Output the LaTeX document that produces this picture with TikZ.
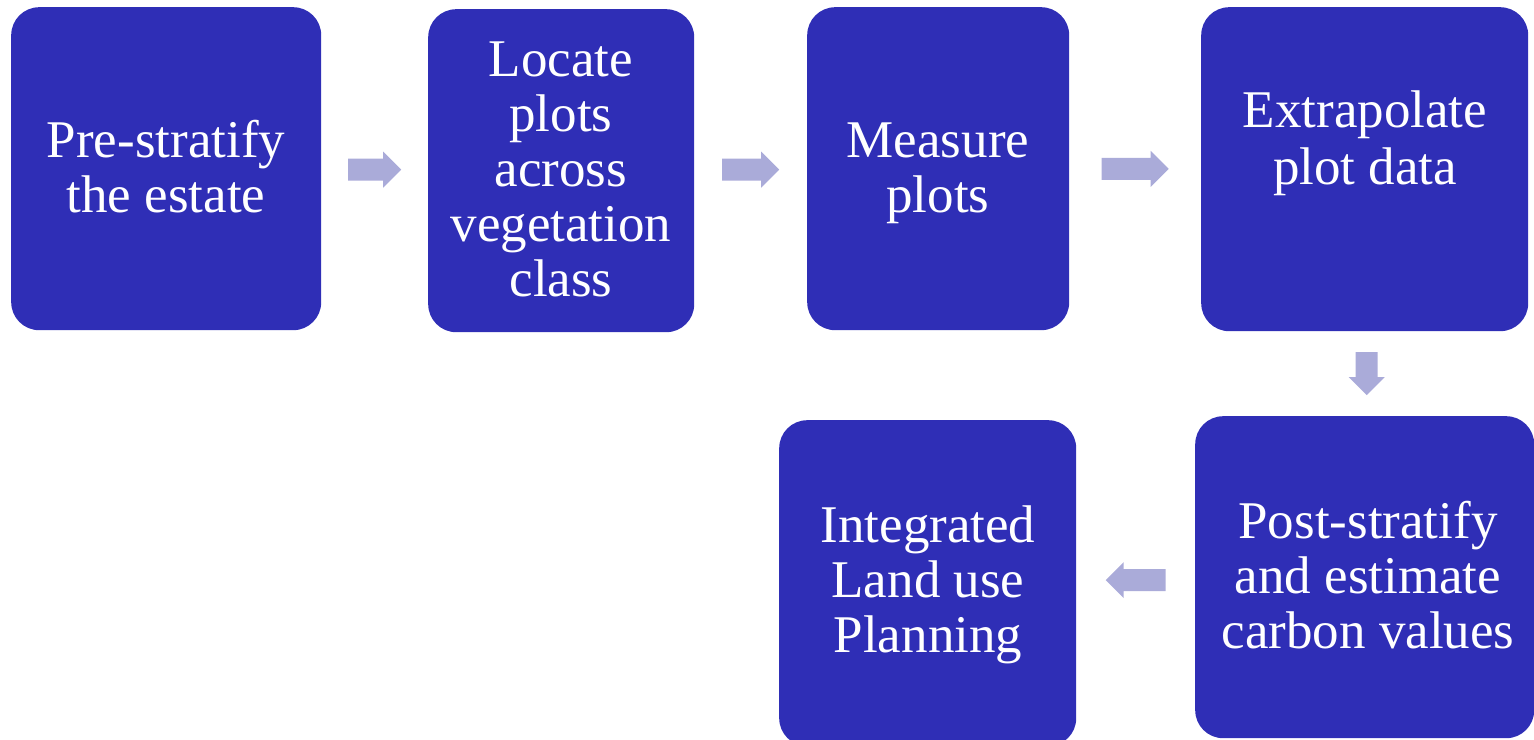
\documentclass[tikz,border=0pt]{standalone}
\usepackage{fontspec}
\setmainfont{Liberation Serif}
\usetikzlibrary{calc}
\definecolor{boxc}{RGB}{47,46,182}
\definecolor{arrowc}{RGB}{170,171,217}
\tikzset{
  box/.style={rectangle, fill=boxc, draw=none, rounded corners=28pt, inner sep=0pt, anchor=north west},
  txt/.style={text=white, align=center, inner sep=0pt, font=\fontsize{53}{55}\selectfont},
}
\newcommand\blockarrow[3]{%
  \fill[arrowc, shift={(#1)}, rotate=#2]
    (-#3/2,-11) -- (#3/2-18,-11) -- (#3/2-18,-18) -- (#3/2,0) --
    (#3/2-18,18) -- (#3/2-18,11) -- (-#3/2,11) -- cycle;}
\begin{document}
\begin{tikzpicture}[x=1pt,y=-1pt]
\useasboundingbox (0,0) rectangle (1534,739);
\clip (0,0) rectangle (1534,739);
% boxes
\node[box, minimum width=310, minimum height=323] (b1) at (11,7) {};
\node[box, minimum width=266, minimum height=323] (b2) at (428,9) {};
\node[box, minimum width=262, minimum height=323] (b3) at (807,7) {};
\node[box, minimum width=327, minimum height=324] (b4) at (1201,7) {};
\node[box, minimum width=339, minimum height=322] (b5) at (1195,416) {};
\node[box, minimum width=297, minimum height=326] (b6) at (779,420) {};
% texts
\node[txt] (t1) at (166,173.5) {\strut Pre-stratify\\\strut the estate};
\node[txt] (t2) at (561,175) {\strut Locate\\\strut plots\\\strut across\\\strut vegetation\\\strut class};
\node[txt] (t3) at (938,173.5) {\strut Measure\\\strut plots};
\node[txt] (t4) at (1365,145) {\strut Extrapolate\\[2pt]\strut plot data};
\node[txt] (t5) at (1368,582) {\strut Post-stratify\\\strut and estimate\\\strut carbon values};
\node[txt] (t6) at (928,586) {\strut Integrated\\\strut Land use\\\strut Planning};
% connectors
\coordinate (m12) at ($(b1.east)!0.5!(b2.west)$);
\coordinate (m23) at ($(b2.east)!0.5!(b3.west)$);
\coordinate (m34) at ($(b3.east)!0.5!(b4.west)$);
\coordinate (m45) at ($(b4.south)!0.5!(b5.north)+(2,0)$);
\coordinate (m56) at ($(b5.west)!0.5!(b6.east)$);
\blockarrow{m12}{0}{53}
\blockarrow{m23}{0}{57}
\blockarrow{m34}{0}{67}
\blockarrow{m45}{-90}{43}
\blockarrow{m56}{180}{60}
\end{tikzpicture}
\end{document}
